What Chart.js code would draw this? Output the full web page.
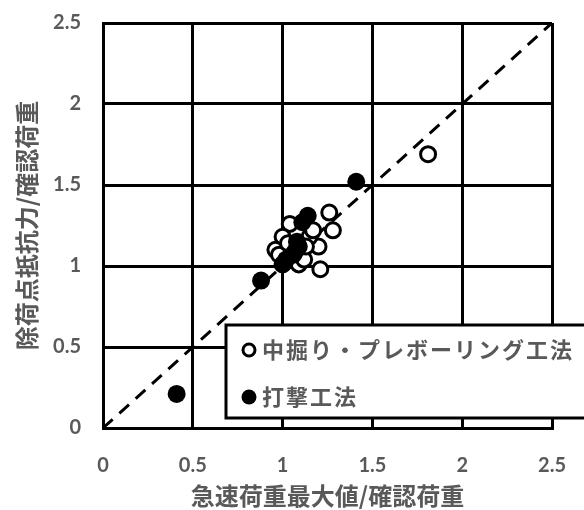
<!DOCTYPE html>
<html>
<head>
<meta charset="utf-8">
<script src="https://cdn.jsdelivr.net/npm/chart.js@4"></script>
<style>
	html, body { margin: 0; padding: 0; background: #fff; }
	#wrap { width: 584px; height: 510px; }
</style>
</head>
<body>
<div id="wrap"><canvas id="chart" width="584" height="510"></canvas></div>
<script>
// 中掘り・プレボーリング工法 (x: 急速荷重最大値/確認荷重, y: 除荷点抵抗力/確認荷重)
const nakaboriX = [1.81, 1.26, 1.28, 1.20, 1.21, 1.04, 1.00, 0.96, 0.98, 1.01, 1.09, 1.12, 1.15, 1.17, 1.13, 1.03, 1.07];
const nakaboriY = [1.69, 1.33, 1.22, 1.12, 0.98, 1.26, 1.18, 1.10, 1.07, 1.02, 1.01, 1.04, 1.18, 1.22, 1.12, 1.14, 1.09];
// 打撃工法
const dagekiX = [0.41, 0.88, 1.41, 1.14, 1.11, 1.00, 1.02, 1.09, 1.08, 1.06];
const dagekiY = [0.21, 0.91, 1.52, 1.31, 1.27, 1.01, 1.04, 1.12, 1.15, 1.07];
// 1:1 line
const lineX = [0, 2.5];
const lineY = [0, 2.5];

const seriesNames = ["中掘り・プレボーリング工法", "打撃工法"];
const xTitle = "急速荷重最大値/確認荷重";
const yTitle = "除荷点抵抗力/確認荷重";

const toPoints = (xs, ys) => xs.map((x, i) => ({ x: x, y: ys[i] }));

const textColor = "#595959";
const tickFont = { family: "Lato, 'Noto Sans CJK JP', sans-serif", size: 20, weight: "bold" };
const titleFont = { family: "'Noto Sans CJK JP', sans-serif", size: 24, weight: "bold" };

// 凡例はプロット内の右下に白抜きの枠で描く
const boxLegend = {
	id: "boxLegend",
	afterDatasetsDraw(chart) {
		const ctx = chart.ctx;
		ctx.save();
		ctx.fillStyle = "#fff";
		ctx.strokeStyle = "#000";
		ctx.lineWidth = 3;
		ctx.fillRect(226, 325, 370, 93);
		ctx.strokeRect(226, 325, 370, 93);

		// 白丸
		ctx.beginPath();
		ctx.arc(249, 350, 6, 0, Math.PI * 2);
		ctx.lineWidth = 3;
		ctx.stroke();
		// 黒丸
		ctx.beginPath();
		ctx.arc(249, 397, 7.5, 0, Math.PI * 2);
		ctx.fillStyle = "#000";
		ctx.fill();

		ctx.fillStyle = textColor;
		ctx.font = "bold 22px 'Noto Sans CJK JP', sans-serif";
		ctx.letterSpacing = "2px";
		ctx.textBaseline = "middle";
		ctx.fillText(seriesNames[0], 262, 350);
		ctx.fillText(seriesNames[1], 262, 397);
		ctx.restore();
	},
};

new Chart(document.getElementById("chart"), {
	type: "scatter",
	data: {
		datasets: [
			{
				label: seriesNames[1],
				data: toPoints(dagekiX, dagekiY),
				backgroundColor: "#000",
				borderColor: "#000",
				pointRadius: 9,
				borderWidth: 0,
				order: 1,
			},
			{
				label: seriesNames[0],
				data: toPoints(nakaboriX, nakaboriY),
				backgroundColor: "#fff",
				borderColor: "#000",
				pointRadius: 7.5,
				borderWidth: 3,
				order: 2,
			},
			{
				type: "line",
				label: "1:1",
				data: toPoints(lineX, lineY),
				borderColor: "#000",
				borderWidth: 3,
				borderDash: [13, 9],
				pointRadius: 0,
				fill: false,
				order: 3,
			},
		],
	},
	options: {
		responsive: false,
		animation: false,
		layout: { padding: { top: 23, right: 32, left: 0, bottom: 0 } },
		plugins: {
			legend: { display: false },
			tooltip: { enabled: false },
		},
		scales: {
			x: {
				type: "linear",
				min: 0,
				max: 2.5,
				afterFit: (s) => {
					s.height = 82;
					s.paddingLeft = 0;
					s.paddingRight = 0;
				},
				ticks: { stepSize: 0.5, color: textColor, font: tickFont, padding: 26, callback: (v) => String(v) },
				grid: { color: "#000", lineWidth: 3, tickLength: 0 },
				border: { color: "#000", width: 3 },
				title: { display: true, text: xTitle, color: textColor, font: titleFont, padding: { top: 0, bottom: 0 } },
			},
			y: {
				type: "linear",
				min: 0,
				max: 2.5,
				afterFit: (s) => {
					s.width = 103;
					s.paddingTop = 0;
					s.paddingBottom = 0;
				},
				ticks: { stepSize: 0.5, color: textColor, font: tickFont, padding: 22, callback: (v) => String(v) },
				grid: { color: "#000", lineWidth: 3, tickLength: 0 },
				border: { color: "#000", width: 3 },
				title: { display: true, text: yTitle, color: textColor, font: titleFont, padding: { top: 12, bottom: 0 } },
			},
		},
	},
	plugins: [boxLegend],
});
</script>
</body>
</html>
